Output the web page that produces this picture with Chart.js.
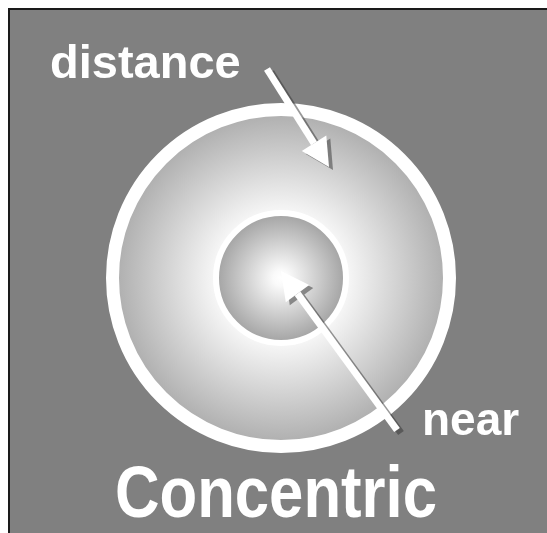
<!DOCTYPE html>
<html>
<head>
<meta charset="utf-8">
<script src="https://cdn.jsdelivr.net/npm/chart.js@4.4.0/dist/chart.umd.min.js"></script>
<style>
  html, body { margin: 0; padding: 0; background: #fff; overflow: hidden; }
  #frame { position: absolute; left: 8px; top: 8px; width: 600px; height: 600px;
           background: #808080; border: 2px solid #1a1a1a; box-sizing: border-box; }
  #chart { position: absolute; left: 0; top: 0; }
</style>
</head>
<body>
<div id="frame"></div>
<canvas id="chart" width="547" height="533"></canvas>
<script>
// Concentric diagram: two nested discs, two arrows, three labels.
// Values are page units (x 0-547, y 0-533, y grows downward).

// discs (outer first, inner drawn on top of it)
const discNames = ["outer", "inner"];
const discX = [281, 281];
const discY = [278, 278];
const discEdge = [175, 68];     // radius out to the edge of the white ring

// arrows, tail -> tip
const arrowNames = ["distance", "near"];
const arrowTailX = [267, 397];
const arrowTailY = [69, 430];
const arrowTipX = [329, 281];
const arrowTipY = [167, 271];

// labels
const labelTexts = ["distance", "near", "Concentric"];

// styles
const labelAnchors = [[50, 78], [422, 435], [115, 517]];
const labelFonts = [47, 46, 73];
const labelFitWidth = [0, 0, 322];   // 0 = natural width
const ringWidth = [13, 6];
const discStops = [
  [[0, "#ffffff"], [0.38, "#f8f8f8"], [1, "#acacac"]],
  [[0, "#ffffff"], [0.12, "#fafafa"], [1, "#a2a2a2"]]
];
const SHAFT_W = 7, HEAD_LEN = 28, HEAD_HALF = 14.5;
const SHADOW = { dx: 4, dy: 3, color: "rgba(50,50,50,0.5)" };

function dir(i) {
  const dx = arrowTipX[i] - arrowTailX[i], dy = arrowTipY[i] - arrowTailY[i];
  const len = Math.hypot(dx, dy);
  return [dx / len, dy / len];
}

// shaft stops where the head starts
function shaftPoints(i) {
  const [ux, uy] = dir(i);
  return [
    { x: arrowTailX[i], y: arrowTailY[i] },
    { x: arrowTipX[i] - ux * HEAD_LEN, y: arrowTipY[i] - uy * HEAD_LEN }
  ];
}

function discRadius(ctx) {
  if (ctx.type !== "data") return 0;
  const i = ctx.dataIndex, sx = ctx.chart.scales.x;
  if (!sx) return 0;
  const r = sx.getPixelForValue(discX[i] + discEdge[i]) - sx.getPixelForValue(discX[i]) - ringWidth[i] / 2;
  return isFinite(r) && r > 0 ? r : 0;
}

function discGradient(ctx) {
  if (ctx.type !== "data") return "#c0c0c0";
  const chart = ctx.chart, i = ctx.dataIndex;
  if (!chart.scales.x || !chart.scales.y) return "#c0c0c0";
  const x = chart.scales.x.getPixelForValue(discX[i]);
  const y = chart.scales.y.getPixelForValue(discY[i]);
  const r = discRadius(ctx);
  if (!isFinite(x) || !isFinite(y) || r <= 0) return "#c0c0c0";
  const g = chart.ctx.createRadialGradient(x, y, 0, x, y, r);
  discStops[i].forEach(s => g.addColorStop(s[0], s[1]));
  return g;
}

function headPath(chart, i) {
  const c = chart.ctx;
  const tx = chart.scales.x.getPixelForValue(arrowTipX[i]);
  const ty = chart.scales.y.getPixelForValue(arrowTipY[i]);
  const [ux, uy] = dir(i);
  const bx = tx - ux * HEAD_LEN, by = ty - uy * HEAD_LEN;
  c.beginPath();
  c.moveTo(tx, ty);
  c.lineTo(bx - uy * HEAD_HALF, by + ux * HEAD_HALF);
  c.lineTo(bx + uy * HEAD_HALF, by - ux * HEAD_HALF);
  c.closePath();
}

const discIndex = arrowNames.length;

const diagramPlugin = {
  id: "diagram",
  beforeDatasetDraw(chart, args) {
    if (args.index < discIndex) {
      const c = chart.ctx;
      c.save();
      c.shadowColor = SHADOW.color;
      c.shadowOffsetX = SHADOW.dx;
      c.shadowOffsetY = SHADOW.dy;
      c.shadowBlur = 0;
    }
  },
  afterDatasetDraw(chart, args) {
    if (args.index < discIndex) {
      chart.ctx.restore();
      return;
    }
    // head shadows go under the shafts, on top of the discs
    const c = chart.ctx;
    c.save();
    c.translate(SHADOW.dx, SHADOW.dy);
    c.fillStyle = SHADOW.color;
    arrowNames.forEach((n, i) => { headPath(chart, i); c.fill(); });
    c.restore();
  },
  afterDatasetsDraw(chart) {
    const c = chart.ctx;
    c.save();
    c.fillStyle = "#ffffff";
    arrowNames.forEach((n, i) => { headPath(chart, i); c.fill(); });
    c.restore();
  },
  afterDraw(chart) {
    const c = chart.ctx;
    c.save();
    c.fillStyle = "#ffffff";
    c.textBaseline = "alphabetic";
    c.textAlign = "left";
    labelTexts.forEach((t, i) => {
      const x = chart.scales.x.getPixelForValue(labelAnchors[i][0]);
      const y = chart.scales.y.getPixelForValue(labelAnchors[i][1]);
      c.font = `bold ${labelFonts[i]}px "Liberation Sans", Arial, Helvetica, sans-serif`;
      const w = c.measureText(t).width;
      const k = labelFitWidth[i] ? labelFitWidth[i] / w : 1;
      c.save();
      c.translate(x, y);
      c.scale(k, 1);
      c.fillText(t, 0, 0);
      c.restore();
    });
    c.restore();
  }
};

const datasets = arrowNames.map((name, i) => ({
  type: "line",
  label: name,
  data: shaftPoints(i),
  showLine: true,
  borderColor: "#ffffff",
  borderWidth: SHAFT_W,
  borderCapStyle: "butt",
  pointRadius: 0,
  pointHoverRadius: 0,
  tension: 0
}));

datasets.push({
  label: "discs",
  data: discX.map((x, i) => ({ x, y: discY[i] })),
  pointRadius: discRadius,
  pointHoverRadius: discRadius,
  pointBackgroundColor: discGradient,
  pointBorderColor: "#ffffff",
  pointBorderWidth: ctx => ringWidth[ctx.dataIndex] || 0
});

new Chart(document.getElementById("chart"), {
  type: "scatter",
  data: { datasets },
  options: {
    responsive: false,
    animation: false,
    events: [],
    layout: { padding: 0 },
    plugins: { legend: { display: false }, tooltip: { enabled: false } },
    scales: {
      x: { type: "linear", min: 0, max: 547, display: false },
      y: { type: "linear", min: 0, max: 533, reverse: true, display: false }
    }
  },
  plugins: [diagramPlugin]
});
</script>
</body>
</html>
